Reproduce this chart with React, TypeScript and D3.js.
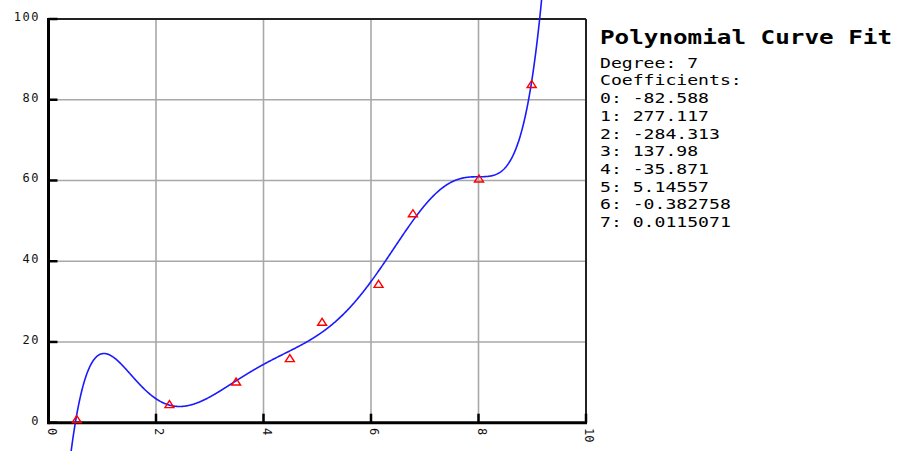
import React from "react";
import * as d3 from "d3";

const xTicks = [0, 2, 4, 6, 8, 10];
const yTicks = [0, 20, 40, 60, 80, 100];
const pointsX = [0.525, 2.25, 3.49, 4.49, 5.09, 6.14, 6.78, 8.01, 8.99];
const pointsY = [0.9, 4.6, 10.2, 16.0, 25.0, 34.4, 51.9, 60.5, 83.9];
const coefficients = [-82.588, 277.117, -284.313, 137.98, -35.871, 5.14557, -0.382758, 0.0115071];
const coefLabels = ["-82.588", "277.117", "-284.313", "137.98", "-35.871", "5.14557", "-0.382758", "0.0115071"];
const title = "Polynomial Curve Fit";
const degree = 7;

const W = 899;
const H = 451;
const mono = "'DejaVu Sans Mono', 'Liberation Mono', monospace";

export default function App() {
  const x = d3.scaleLinear().domain([0, 10]).range([48.5, 586]);
  const y = d3.scaleLinear().domain([0, 100]).range([422.7, 19]);

  const poly = (t: number) => coefficients.reduce((s, c, i) => s + c * Math.pow(t, i), 0);
  const samples = d3.range(0, 10.0001, 0.01).map((t) => [t, poly(t)] as [number, number]);
  const line = d3
    .line<[number, number]>()
    .x((d) => x(d[0]))
    .y((d) => Math.max(-50, Math.min(H + 50, y(d[1]))));

  const tri = (cx: number, cy: number) =>
    `M${cx - 4.5},${cy + 3.5}L${cx},${cy - 3.5}L${cx + 4.5},${cy + 3.5}Z`;

  const infoLines = [`Degree: ${degree}`, "Coefficients:", ...coefLabels.map((c, i) => `${i}: ${c}`)];

  return (
    <svg
      width={W}
      height={H}
      style={{ position: "absolute", left: 0, top: 0, background: "#fff" }}
    >
      <rect x={0} y={0} width={W} height={H} fill="#fff" />
      {/* grid */}
      {xTicks.slice(1, -1).map((t) => (
        <line key={"gx" + t} x1={x(t)} x2={x(t)} y1={y(100)} y2={y(0)} stroke="#a8a8a8" strokeWidth={1.6} />
      ))}
      {yTicks.slice(1, -1).map((t) => (
        <line key={"gy" + t} x1={x(0)} x2={x(10)} y1={y(t)} y2={y(t)} stroke="#a8a8a8" strokeWidth={1.6} />
      ))}
      {/* frame */}
      <line x1={x(0)} x2={x(10)} y1={y(100)} y2={y(100)} stroke="#222" strokeWidth={2} />
      <line x1={x(10)} x2={x(10)} y1={y(100)} y2={y(0)} stroke="#222" strokeWidth={2} />
      <line x1={x(0)} x2={x(10) + 1} y1={y(0)} y2={y(0)} stroke="#000" strokeWidth={3} />
      <line x1={x(0)} x2={x(0)} y1={y(100) - 1} y2={y(0) + 1.5} stroke="#000" strokeWidth={3} />
      {/* ticks */}
      {yTicks.map((t) => (
        <line key={"ty" + t} x1={x(0)} x2={x(0) + 9} y1={y(t)} y2={y(t)} stroke="#000" strokeWidth={2.5} />
      ))}
      {xTicks.map((t) => (
        <line key={"tx" + t} x1={x(t)} x2={x(t)} y1={y(0)} y2={y(0) - 9} stroke="#000" strokeWidth={2.5} />
      ))}
      {/* y labels */}
      {yTicks.map((t) => (
        <text
          key={"ly" + t}
          x={40}
          y={y(t) + 2}
          textAnchor="end"
          fontFamily={mono}
          fontSize={12}
          letterSpacing={1.5}
          fill="#111"
        >
          {t}
        </text>
      ))}
      {/* x labels rotated */}
      {xTicks.map((t) => (
        <text
          key={"lx" + t}
          transform={`translate(${x(t) - 1},${428}) rotate(90)`}
          fontFamily={mono}
          fontSize={12}
          fill="#111"
        >
          {t}
        </text>
      ))}
      {/* curve */}
      <path d={line(samples) || ""} fill="none" stroke="#1a1aff" strokeWidth={1.6} />
      {/* points */}
      {pointsX.map((px, i) => (
        <path key={"p" + i} d={tri(x(px), y(pointsY[i]))} fill="none" stroke="#ff0000" strokeWidth={1.4} />
      ))}
      {/* legend text */}
      <text
        x={600}
        y={44}
        fontFamily={mono}
        fontWeight="bold"
        fontSize={19}
        textLength={292}
        lengthAdjust="spacingAndGlyphs"
        fill="#000"
      >
        {title}
      </text>
      {infoLines.map((s, i) => (
        <text
          key={"il" + i}
          x={600}
          y={67.7 + i * 17.7}
          fontFamily={mono}
          fontSize={14}
          textLength={s.length * 10.9}
          lengthAdjust="spacingAndGlyphs"
          fill="#000"
        >
          {s}
        </text>
      ))}
    </svg>
  );
}
